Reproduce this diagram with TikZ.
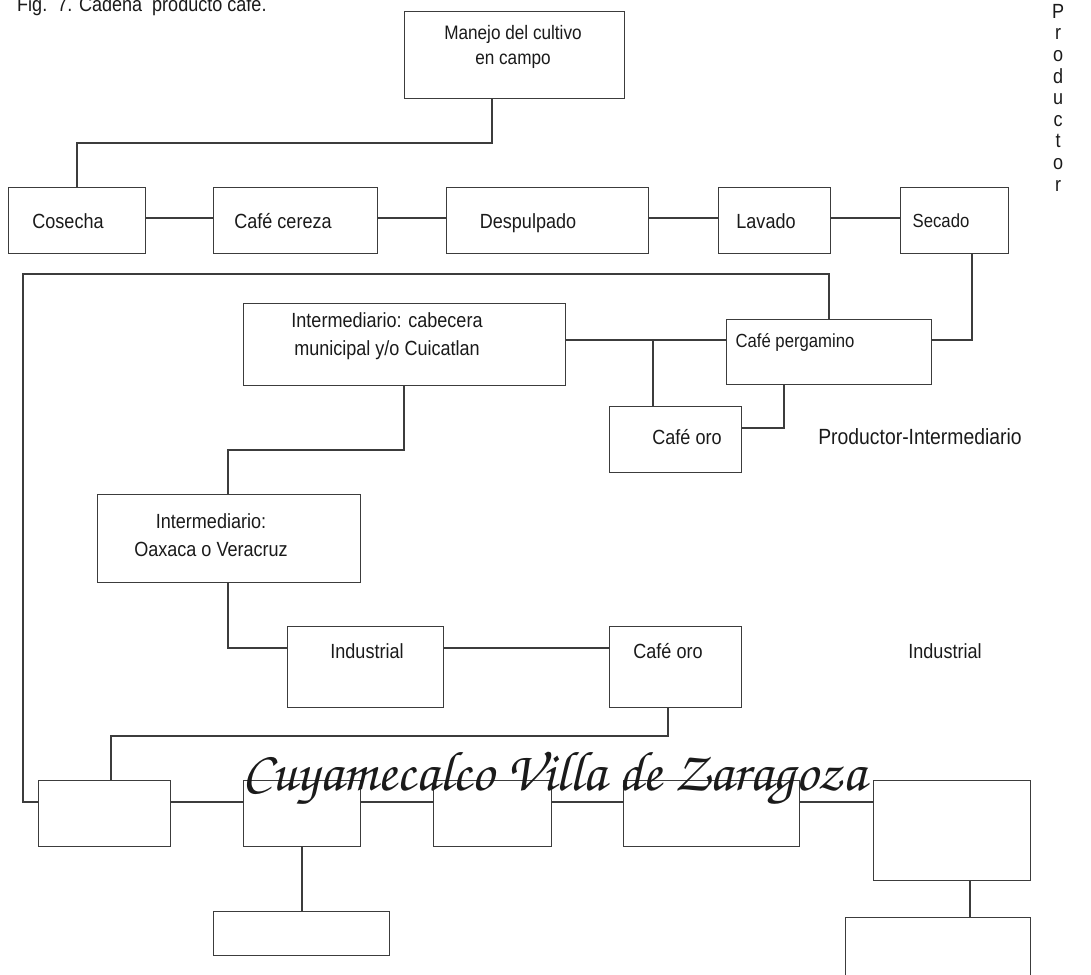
\documentclass[tikz,border=0pt]{standalone}
\usepackage{fontspec}
\setmainfont{Liberation Sans}
\newfontfamily\nar[FakeStretch=0.88]{Liberation Sans}
\definecolor{ln}{HTML}{3C3C3C}
\definecolor{tx}{HTML}{1A1A1A}
\begin{document}
\begin{tikzpicture}[x=1pt,y=-1pt,
  bx/.style={draw=ln,line width=1.3pt,fill=none,inner sep=0pt,anchor=north west},
  tt/.style={text=tx,inner sep=0pt,font=\nar\fontsize{20.5}{25}\selectfont,anchor=base},
  ts/.style={text=tx,inner sep=0pt,font=\nar\fontsize{19}{23}\selectfont,anchor=base},
  tm/.style={text=tx,inner sep=0pt,font=\nar\fontsize{20.5}{28}\selectfont,align=center},
  cn/.style={draw=ln,line width=1.3pt}]
\useasboundingbox (0,0) rectangle (1091,974);
% title
\node[tt,anchor=base west] (title) at (17,12) {Fig.\ \ 7. Cadena \ producto café.};
% vertical label
\node[text=tx,inner sep=0pt,anchor=north,align=center,font=\nar\fontsize{20.5}{21.6}\selectfont] (prod) at (1058,4) {P\\r\\o\\d\\u\\c\\t\\o\\r};
% boxes top
\node[bx,minimum width=220,minimum height=87] (man) at (404,11) {};
\node[tm,font=\nar\fontsize{19.5}{25}\selectfont] (manT) at (513,47) {Manejo del cultivo\\en campo};
\node[bx,minimum width=137,minimum height=66] (cos) at (8,187) {};
\node[tt] (cosT) at (68,228) {Cosecha};
\node[bx,minimum width=164,minimum height=66] (cer) at (213,187) {};
\node[tt] (cerT) at (283,228) {Café cereza};
\node[bx,minimum width=202,minimum height=66] (des) at (446,187) {};
\node[tt] (desT) at (528,228) {Despulpado};
\node[bx,minimum width=112,minimum height=66] (lav) at (718,187) {};
\node[tt] (lavT) at (766,228) {Lavado};
\node[bx,minimum width=108,minimum height=66] (sec) at (900,187) {};
\node[ts] (secT) at (941,227) {Secado};
% middle
\node[bx,minimum width=322,minimum height=82] (int) at (243,303) {};
\node[tm] (intT) at (387,336) {Intermediario: cabecera\\municipal y/o Cuicatlan};
\node[bx,minimum width=205,minimum height=65] (per) at (726,319) {};
\node[ts] (perT) at (795,347) {Café pergamino};
\node[bx,minimum width=132,minimum height=66] (oro) at (609,406) {};
\node[tt] (oroT) at (687,444) {Café oro};
\node[tt,font=\nar\fontsize{22}{26}\selectfont] (pi) at (920,444) {Productor-Intermediario};
\node[bx,minimum width=263,minimum height=88] (oax) at (97,494) {};
\node[tm] (oaxT) at (211,535) {Intermediario:\\Oaxaca o Veracruz};
\node[bx,minimum width=156,minimum height=81] (ind) at (287,626) {};
\node[tt] (indT) at (367,658) {Industrial};
\node[bx,minimum width=132,minimum height=81] (oro2) at (609,626) {};
\node[tt] (oro2T) at (668,658) {Café oro};
\node[tt] (indl) at (945,658) {Industrial};
% bottom row
\node[bx,minimum width=132,minimum height=66] (b1) at (38,780) {};
\node[bx,minimum width=117,minimum height=66] (b2) at (243,780) {};
\node[bx,minimum width=118,minimum height=66] (b3) at (433,780) {};
\node[bx,minimum width=176,minimum height=66] (b4) at (623,780) {};
\node[bx,minimum width=157,minimum height=100] (b5) at (873,780) {};
\node[bx,minimum width=176,minimum height=44] (b6) at (213,911) {};
\node[bx,minimum width=185,minimum height=70] (b7) at (845,917) {};
% connectors
\draw[cn] (492,98) |- (77,143) -- (77,187);
\draw[cn] (145,218) -- (213,218);
\draw[cn] (377,218) -- (446,218);
\draw[cn] (648,218) -- (718,218);
\draw[cn] (830,218) -- (900,218);
\draw[cn] (972,253) |- (931,340);
\draw[cn] (829,319) |- (23,274) |- (38,802);
\draw[cn] (565,340) -- (726,340);
\draw[cn] (653,340) -- (653,406);
\draw[cn] (741,428) -| (784,384);
\draw[cn] (404,385) |- (228,450) -- (228,494);
\draw[cn] (228,582) |- (287,648);
\draw[cn] (443,648) -- (609,648);
\draw[cn] (668,707) |- (111,736) -- (111,780);
\draw[cn] (170,802) -- (243,802);
\draw[cn] (360,802) -- (433,802);
\draw[cn] (551,802) -- (623,802);
\draw[cn] (799,802) -- (873,802);
\draw[cn] (302,846) -- (302,911);
\draw[cn] (970,880) -- (970,917);
% script title
\node[text=tx,inner sep=0pt,anchor=base] (villa) at (554,790) {\usefont{OT1}{pzc}{mb}{it}\fontsize{56}{60}\selectfont Cuyamecalco Villa de Zaragoza};
\end{tikzpicture}
\end{document}
